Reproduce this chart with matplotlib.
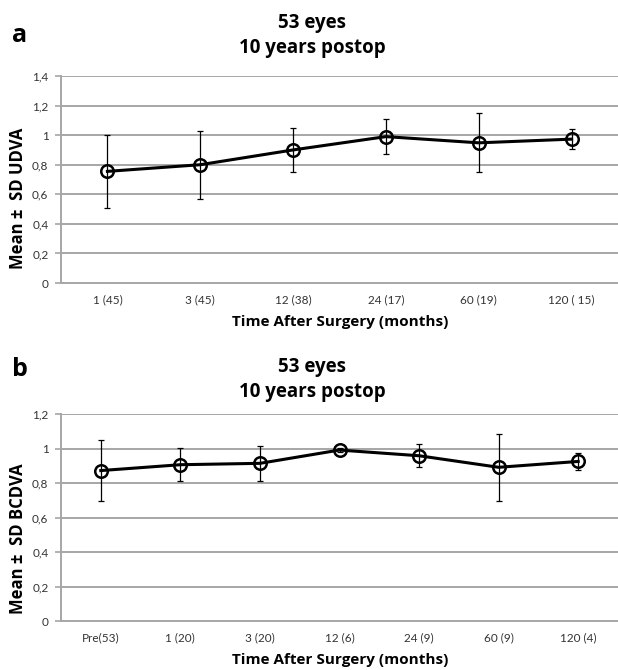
import matplotlib
matplotlib.use("Agg")
import matplotlib.pyplot as plt

plt.rcParams['font.family'] = ['Lato', 'DejaVu Sans']
BOLD = ['Open Sans', 'DejaVu Sans']

# panel a: UDVA
labels_a = ["1 (45)", "3 (45)", "12 (38)", "24 (17)", "60 (19)", "120 ( 15)"]
mean_a = [0.755, 0.80, 0.90, 0.99, 0.948, 0.973]
sd_a = [0.245, 0.23, 0.147, 0.118, 0.20, 0.07]
yticks_a = [0, 0.2, 0.4, 0.6, 0.8, 1.0, 1.2, 1.4]
ytlabels_a = ["0", "0,2", "0,4", "0,6", "0,8", "1", "1,2", "1,4"]

# panel b: BCDVA
labels_b = ["Pre(53)", "1 (20)", "3 (20)", "12 (6)", "24 (9)", "60 (9)", "120 (4)"]
mean_b = [0.872, 0.906, 0.914, 0.991, 0.958, 0.891, 0.925]
sd_b = [0.175, 0.096, 0.10, 0.01, 0.068, 0.195, 0.05]
yticks_b = [0, 0.2, 0.4, 0.6, 0.8, 1.0, 1.2]
ytlabels_b = ["0", "0,2", "0,4", "0,6", "0,8", "1", "1,2"]

W, H = 618, 670
fig = plt.figure(figsize=(W / 100, H / 100), dpi=100)

GRID = "#a6a6a6"


def box(left, top, right, bottom):
    return [left / W, 1 - bottom / H, (right - left) / W, (bottom - top) / H]


def draw_panel(ax, labels, mean, sd, yticks, ytlabels):
    x = list(range(len(labels)))
    ax.set_xlim(-0.5, len(labels) - 0.5)
    ax.set_ylim(0, yticks[-1])
    for y in yticks[1:]:
        ax.axhline(y, color=GRID, lw=1.4, zorder=1)
    ax.errorbar(x, mean, yerr=sd, fmt="none", ecolor="black", elinewidth=0.9,
                capsize=2.2, capthick=0.9, zorder=3)
    ax.plot(x, mean, color="black", lw=2.2, marker="o", markersize=9,
            markerfacecolor="none", markeredgecolor="black", markeredgewidth=1.8,
            zorder=4)
    ax.set_xticks(x)
    ax.set_xticklabels(labels, fontsize=8.5, color="#333333")
    ax.set_yticks(yticks)
    ax.set_yticklabels(ytlabels, fontsize=8.5, color="#333333")
    ax.tick_params(axis="x", length=0, pad=8)
    ax.tick_params(axis="y", length=4, width=1.2, color=GRID, pad=5)
    for s in ["top", "right"]:
        ax.spines[s].set_visible(False)
    for s in ["left", "bottom"]:
        ax.spines[s].set_color(GRID)
        ax.spines[s].set_linewidth(1.4)


def bold_text(x, y, s, size, **kw):
    fig.text(x / W, 1 - y / H, s, fontsize=size, fontweight="bold", family=BOLD,
             ha="center", va="center", **kw)


ax_a = fig.add_axes(box(61, 76, 618, 283))
draw_panel(ax_a, labels_a, mean_a, sd_a, yticks_a, ytlabels_a)
ax_b = fig.add_axes(box(61, 414, 618, 621))
draw_panel(ax_b, labels_b, mean_b, sd_b, yticks_b, ytlabels_b)

# texts of panel a
bold_text(20, 35, "a", 18)
bold_text(312, 23, "53 eyes", 13.5)
bold_text(312, 48, "10 years postop", 13.5)
bold_text(18, 198, "Mean \u00b1  SD UDVA", 12, rotation=90)
bold_text(340, 322, "Time After Surgery (months)", 11)

# texts of panel b
bold_text(20, 370, "b", 18)
bold_text(312, 367, "53 eyes", 13.5)
bold_text(312, 392, "10 years postop", 13.5)
bold_text(18, 539, "Mean \u00b1  SD BCDVA", 12, rotation=90)
bold_text(340, 660, "Time After Surgery (months)", 11)

fig.savefig("out.png", dpi=100)
